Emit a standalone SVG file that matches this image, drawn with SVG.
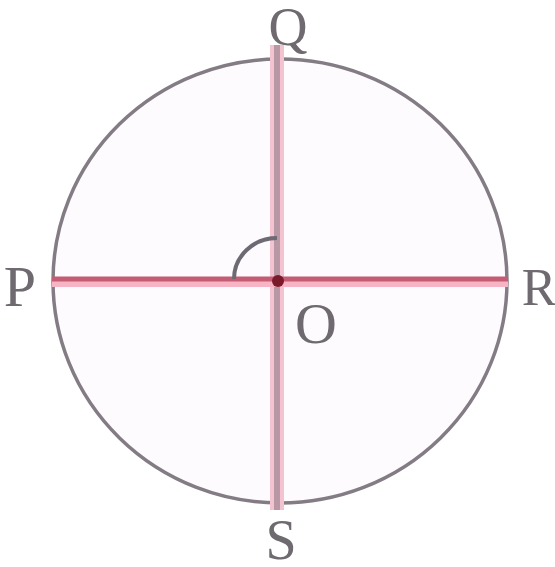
<svg xmlns="http://www.w3.org/2000/svg" width="555" height="567" viewBox="0 0 555 567">
<style>
.lbl{font-family:"Liberation Serif",serif;font-size:58px;fill:#6e6a70;text-anchor:middle}
</style>
<rect width="555" height="567" fill="#ffffff"/>
<g id="circle">
<ellipse cx="280" cy="281" rx="227" ry="222" fill="#fdfbfd" stroke="#847c84" stroke-width="3.5"/>
</g>
<g id="connectors">
<line x1="277" y1="45" x2="277" y2="510" stroke="#f3c4d0" stroke-width="14"/>
<line x1="277" y1="45" x2="277" y2="510" stroke="#b898a4" stroke-width="6"/>
<line x1="52" y1="283" x2="508" y2="283" stroke="#f7b4c4" stroke-width="8"/>
<line x1="52" y1="279" x2="508" y2="279" stroke="#c45c74" stroke-width="5"/>
<path d="M234,279 A43,41 0 0 1 277,238" fill="none" stroke="#6e6a74" stroke-width="4"/>
<circle cx="278" cy="281" r="6" fill="#7a1a2a"/>
</g>
<g id="Q"><text class="lbl" x="288" y="45" style="font-size:54px">Q</text></g>
<g id="P"><text class="lbl" x="20" y="306">P</text></g>
<g id="R"><text class="lbl" x="539" y="305" style="font-size:52px">R</text></g>
<g id="S"><text class="lbl" x="281" y="559" style="font-size:56px">S</text></g>
<g id="O"><text class="lbl" x="316" y="343">O</text></g>
</svg>
